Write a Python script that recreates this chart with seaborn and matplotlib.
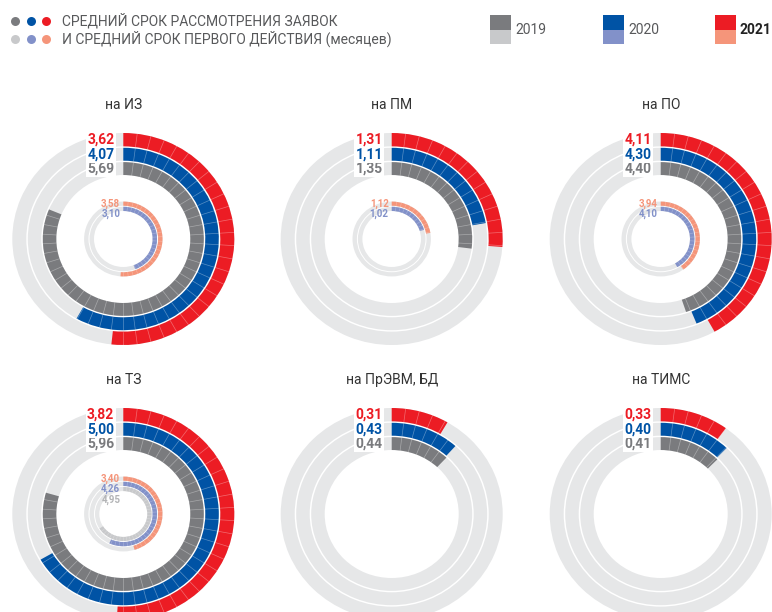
import numpy as np
import seaborn as sns
import matplotlib.pyplot as plt
from matplotlib.patches import Rectangle

# data (months)
categories = ['на ИЗ', 'на ПМ', 'на ПО', 'на ТЗ', 'на ПрЭВМ, БД', 'на ТИМС']
review_2019 = [5.69, 1.35, 4.40, 5.96, 0.44, 0.41]
review_2020 = [4.07, 1.11, 4.30, 5.00, 0.43, 0.40]
review_2021 = [3.62, 1.31, 4.11, 3.82, 0.31, 0.33]
first_2019 = [None, None, None, 4.95, None, None]
first_2020 = [3.10, 1.02, 4.10, 4.26, None, None]
first_2021 = [3.58, 1.12, 3.94, 3.40, None, None]
# value of a full circle in each chart
full_scale = [7.0, 5.0, 9.8, 7.5, 3.7, 3.3]
years = ['2019', '2020', '2021']

sns.set_theme(style='white')
plt.rcParams['font.family'] = ['Roboto', 'DejaVu Sans']

dark = ['#7a7b7e', '#0053a5', '#ec1c24']
light = ['#c8c9cb', '#8291c9', '#f5957a']
light_txt = ['#b3b4b6', '#8291c9', '#f5957a']
ring_bg = '#e6e7e8'

W, H = 772, 612
fig = plt.figure(figsize=(W / 100, H / 100), dpi=100)

# layout in pixels
col_x = [123.3, 391.7, 660.7]
row_y = [239, 514]
title_dy = 134
R = 115
yscale = 0.955
outer_slots = [(67, 80.5), (82, 95.5), (97, 111)]   # 2019, 2020, 2021
inner_slots = [(24, 28.3), (29.3, 33.8), (34.8, 39.2)]
n_seg = 50


def fmt(v):
    return f'{v:.2f}'.replace('.', ',')


def ring(ax, val, scale, r0, r1, color, seg_alpha):
    ax.bar(0, r1 - r0, width=2 * np.pi, bottom=r0, align='edge',
           color=ring_bg, linewidth=0)
    span = 2 * np.pi * val / scale
    ax.bar(0, r1 - r0, width=span, bottom=r0, align='edge',
           color=color, linewidth=0)
    for th in np.linspace(0, 2 * np.pi, n_seg, endpoint=False)[1:]:
        if th < span:
            ax.plot([th, th], [r0, r1], color='white', lw=0.5, alpha=seg_alpha)


for i, cat in enumerate(categories):
    cx = col_x[i % 3]
    cy = row_y[i // 3]
    hh = R * yscale
    ax = fig.add_axes([(cx - R) / W, 1 - (cy + hh) / H, 2 * R / W, 2 * hh / H],
                      projection='polar')
    ax.set_aspect('auto')
    ax.set_theta_zero_location('N')
    ax.set_theta_direction(-1)
    ax.set_ylim(0, R)
    ax.set_axis_off()

    sc = full_scale[i]
    outer_vals = [review_2019[i], review_2020[i], review_2021[i]]
    inner_vals = [first_2019[i], first_2020[i], first_2021[i]]

    for k in range(3):
        r0, r1 = outer_slots[k]
        ring(ax, outer_vals[k], sc, r0, r1, dark[k], 0.35)
        ax.annotate(fmt(outer_vals[k]), xy=(0, (r0 + r1) / 2), xytext=(-9, 0),
                    textcoords='offset pixels', ha='right', va='center',
                    fontsize=10, fontweight='bold', color=dark[k],
                    bbox=dict(boxstyle='square,pad=0.1', fc='white', ec='none'))

    # inner rings: the labels are stacked down from the outermost inner ring
    top_r = sum(inner_slots[2]) / 2
    j = 0
    for k in [2, 1, 0]:
        if inner_vals[k] is None:
            continue
        r0, r1 = inner_slots[k]
        ring(ax, inner_vals[k], sc, r0, r1, light[k], 0.25)
        ax.annotate(fmt(inner_vals[k]), xy=(0, top_r), xytext=(-3, -j * 10.5),
                    textcoords='offset pixels', ha='right', va='center',
                    fontsize=7, fontweight='bold', color=light_txt[k])
        j += 1

    fig.text(cx / W, 1 - (cy - title_dy) / H, cat, ha='center', va='center',
             fontsize=10, color='#333333')

# legend on a pixel-space overlay
lg = fig.add_axes([0, 0, 1, 1])
lg.set_xlim(0, W)
lg.set_ylim(H, 0)
lg.set_axis_off()
lg.patch.set_alpha(0)

for k, x in enumerate([15, 31, 46]):
    lg.scatter(x, 21, s=42, color=dark[k], linewidths=0)
    lg.scatter(x, 39, s=42, color=light[k], linewidths=0)
lg.text(62, 21, 'СРЕДНИЙ СРОК РАССМОТРЕНИЯ ЗАЯВОК', fontsize=10,
        color='#58595b', va='center')
lg.text(62, 39, 'И СРЕДНИЙ СРОК ПЕРВОГО ДЕЙСТВИЯ (месяцев)', fontsize=10,
        color='#58595b', va='center')

for k, x in enumerate([490, 603, 715]):
    lg.add_patch(Rectangle((x, 15), 20.5, 14.5, color=dark[k], lw=0))
    lg.add_patch(Rectangle((x, 29.5), 20.5, 14.5, color=light[k], lw=0))
    bold = k == 2
    lg.text(x + 25, 29.5, years[k], fontsize=10, va='center',
            color='#222222' if bold else '#58595b',
            fontweight='bold' if bold else 'normal')

fig.savefig('out.png', dpi=100)
